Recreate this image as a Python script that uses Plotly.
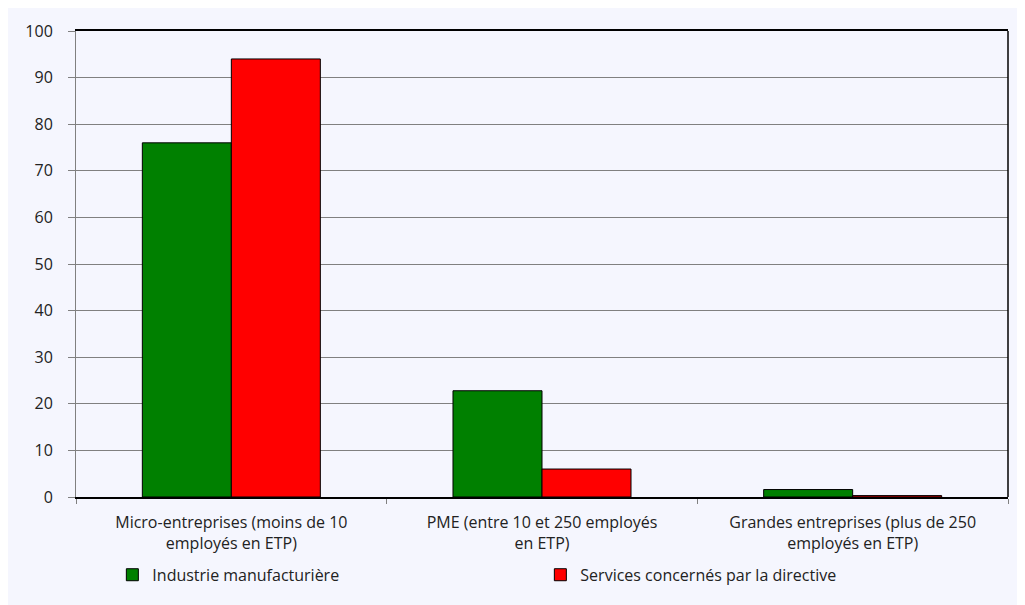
import plotly.graph_objects as go

categories = [
    "Micro-entreprises (moins de 10<br>employés en ETP)",
    "PME (entre 10 et 250 employés<br>en ETP)",
    "Grandes entreprises (plus de 250<br>employés en ETP)",
]
industrie = [76, 22.8, 1.6]
services = [94, 6, 0.3]

font_family = "Open Sans, Lato, sans-serif"
bg = "#F5F6FE"

fig = go.Figure()

fig.add_trace(go.Bar(
    name="Industrie manufacturière",
    x=categories,
    y=industrie,
    marker=dict(color="#008000", line=dict(color="black", width=1)),
))
fig.add_trace(go.Bar(
    name="Services concernés par la directive",
    x=categories,
    y=services,
    marker=dict(color="#FF0000", line=dict(color="black", width=1)),
))

fig.update_layout(
    width=1017,
    height=597,
    barmode="group",
    bargap=0.427,
    bargroupgap=0,
    paper_bgcolor=bg,
    plot_bgcolor=bg,
    margin=dict(l=68, r=17, t=17, b=108),
    font=dict(family=font_family, size=16, color="#222222"),
    showlegend=True,
    legend=dict(
        orientation="h",
        x=0.039,
        xanchor="left",
        y=-0.167,
        yanchor="middle",
        entrywidth=383,
        bgcolor="rgba(0,0,0,0)",
        font=dict(family=font_family, size=16, color="#222222"),
    ),
    xaxis=dict(
        showline=True,
        linecolor="black",
        linewidth=1.5,
        mirror=True,
        ticks="outside",
        tickson="boundaries",
        tickcolor="#808080",
        ticklen=5,
        ticklabelstandoff=10,
        showgrid=False,
        tickfont=dict(family=font_family, size=16, color="#222222"),
    ),
    yaxis=dict(
        range=[0, 100],
        dtick=10,
        showline=True,
        linecolor="#808080",
        linewidth=1,
        ticks="outside",
        tickcolor="#808080",
        ticklen=7,
        ticklabelstandoff=12,
        showgrid=True,
        gridcolor="#808080",
        gridwidth=1,
        zeroline=False,
        tickfont=dict(family=font_family, size=16, color="#222222"),
    ),
    shapes=[
        dict(type="line", xref="paper", yref="paper", x0=1, x1=1, y0=0, y1=1,
             line=dict(color="black", width=1.5)),
    ],
)

fig.write_html("out.html")
